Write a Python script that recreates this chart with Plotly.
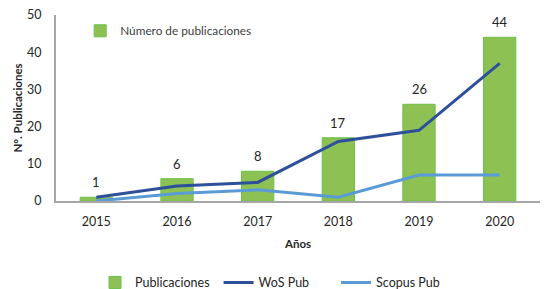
import plotly.graph_objects as go

years = ["2015", "2016", "2017", "2018", "2019", "2020"]
publicaciones = [1, 6, 8, 17, 26, 44]
wos_pub = [1, 4, 5, 16, 19, 37]
scopus_pub = [0, 2, 3, 1, 7, 7]
y_ticks = [0, 10, 20, 30, 40, 50]

FONT = "Lato, 'Noto Sans', sans-serif"
GREEN = "#8DC153"
GREEN_EDGE = "#6CC04A"
DARK_BLUE = "#2E4F9A"
LIGHT_BLUE = "#5B9BD5"
TXT = "#262626"

fig = go.Figure()
fig.add_trace(go.Bar(x=years, y=publicaciones, name="Publicaciones",
                     marker=dict(color=GREEN, line=dict(color=GREEN_EDGE, width=1)),
                     width=0.4, legend="legend", showlegend=True))
fig.add_trace(go.Scatter(x=years, y=wos_pub, name="WoS Pub", mode="lines",
                         line=dict(color=DARK_BLUE, width=3), legend="legend3", showlegend=True))
fig.add_trace(go.Scatter(x=years, y=scopus_pub, name="Scopus Pub", mode="lines",
                         line=dict(color=LIGHT_BLUE, width=3), legend="legend4", showlegend=True))
# secondary legend entry inside the plot (no visible mark)
fig.add_trace(go.Bar(x=years, y=[0] * len(years), name="Número de publicaciones",
                     marker=dict(color=GREEN, line=dict(color=GREEN_EDGE, width=1)),
                     legend="legend2", showlegend=True, hoverinfo="skip", width=0.001))

for i, v in enumerate(publicaciones):
    fig.add_annotation(x=i, y=v, xref="x", yref="y", text=str(v), showarrow=False,
                       yshift=15, font=dict(size=13, color=TXT, family=FONT))

bottom_legend = dict(orientation="h", xanchor="left", y=-0.44, yanchor="middle",
                     font=dict(size=12.5, color=TXT), bgcolor="rgba(0,0,0,0)")

fig.update_layout(
    width=551, height=289,
    showlegend=True,
    margin=dict(l=56, r=11, t=15, b=88, autoexpand=False),
    paper_bgcolor="white", plot_bgcolor="white",
    font=dict(family=FONT, size=12, color=TXT),
    barmode="overlay",
    xaxis=dict(type="category", categoryorder="array", categoryarray=years,
               range=[-0.5, len(years) - 0.5],
               showline=True, linecolor="#A6A6A6", linewidth=2, showgrid=False,
               ticks="outside", ticklen=8, tickcolor="rgba(0,0,0,0)",
               tickfont=dict(size=12.5, color=TXT),
               title=dict(text="<b>Años</b>", font=dict(size=11.5, color=TXT), standoff=12)),
    yaxis=dict(range=[0, 50], tickvals=y_ticks, showline=True, linecolor="#A6A6A6",
               linewidth=2, showgrid=False, zeroline=False,
               ticks="outside", ticklen=10, tickcolor="rgba(0,0,0,0)",
               tickfont=dict(size=12.5, color=TXT),
               title=dict(text="<b>N°. Publicaciones</b>", font=dict(size=11.5, color=TXT), standoff=2)),
    legend=dict(bottom_legend, x=0.0806),
    legend3=dict(bottom_legend, x=0.3359),
    legend4=dict(bottom_legend, x=0.5786),
    legend2=dict(x=0.05, xanchor="left", y=0.915, yanchor="middle",
                 font=dict(size=11.8, color="#404040"), bgcolor="rgba(0,0,0,0)"),
)

fig.write_html("out.html", config={"displayModeBar": False},
               post_script="document.body.style.margin='0';document.body.style.overflow='hidden';")
